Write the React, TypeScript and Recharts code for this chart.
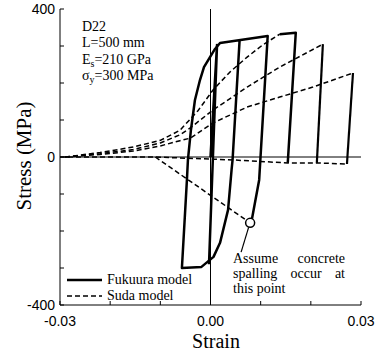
import { Legend, Line, LineChart, ReferenceDot, ReferenceLine, XAxis, YAxis } from 'recharts'

type Pt = { x: number; y: number }

// strain / stress (MPa)
const fukuuraFirst: Pt[] = [
  { x: 0, y: 0 },
  { x: 0.0013, y: 303 },
  { x: -0.0003, y: -290 },
]

const fukuuraMain: Pt[] = [
  { x: 0.0058, y: 316 },
  { x: 0.0044, y: -8 },
  { x: 0.0042, y: -35 },
  { x: 0.0035, y: -143 },
  { x: 0.0019, y: -232 },
  { x: 0.0006, y: -270 },
  { x: -0.0018, y: -297 },
  { x: -0.0057, y: -300 },
  { x: -0.0047, y: -62 },
  { x: -0.0045, y: -8 },
  { x: -0.0039, y: 73 },
  { x: -0.0031, y: 154 },
  { x: -0.0021, y: 208 },
  { x: -0.0013, y: 243 },
  { x: -0.0001, y: 270 },
  { x: 0.0009, y: 292 },
  { x: 0.0019, y: 308 },
  { x: 0.0114, y: 327 },
  { x: 0.0097, y: -62 },
  { x: 0.0083, y: -165 },
  { x: 0.0079, y: -178 },
]

const fukuuraLast: Pt[] = [
  { x: 0.0138, y: 332 },
  { x: 0.017, y: 336 },
  { x: 0.0154, y: -16 },
]

const sudaA: Pt[] = [
  { x: -0.029, y: 0 },
  { x: -0.022, y: 12 },
  { x: -0.0154, y: 27 },
  { x: -0.01, y: 45 },
  { x: -0.0061, y: 72 },
  { x: -0.0025, y: 125 },
  { x: 0.0005, y: 181 },
  { x: 0.0039, y: 230 },
  { x: 0.0073, y: 270 },
  { x: 0.0104, y: 303 },
  { x: 0.0138, y: 332 },
]

const sudaB: Pt[] = [
  { x: -0.029, y: 0 },
  { x: -0.022, y: 9 },
  { x: -0.0154, y: 20 },
  { x: -0.01, y: 38 },
  { x: -0.0061, y: 60 },
  { x: -0.0041, y: 78 },
  { x: 0.0005, y: 127 },
  { x: 0.0073, y: 189 },
  { x: 0.0138, y: 243 },
  { x: 0.0224, y: 305 },
]

const sudaC: Pt[] = [
  { x: -0.029, y: 0 },
  { x: -0.022, y: 7 },
  { x: -0.0154, y: 16 },
  { x: -0.01, y: 30 },
  { x: -0.0061, y: 44 },
  { x: -0.004, y: 51 },
  { x: 0.0005, y: 92 },
  { x: 0.0073, y: 135 },
  { x: 0.0138, y: 162 },
  { x: 0.0204, y: 189 },
  { x: 0.0284, y: 227 },
]

const sudaUnloadB: Pt[] = [
  { x: 0.0224, y: 305 },
  { x: 0.0212, y: -16 },
]

const sudaUnloadC: Pt[] = [
  { x: 0.0284, y: 227 },
  { x: 0.0272, y: -19 },
]

const sudaZero: Pt[] = [
  { x: -0.03, y: 0 },
  { x: -0.011, y: 0 },
  { x: 0.0045, y: -8 },
  { x: 0.0112, y: -13 },
  { x: 0.0154, y: -16 },
  { x: 0.0212, y: -16 },
  { x: 0.0272, y: -19 },
]

const sudaSpalling: Pt[] = [
  { x: -0.011, y: 0 },
  { x: 0.0079, y: -178 },
]

const spallPoint = { x: 0.0079, y: -178 }

const xTicks = [-0.03, -0.02, -0.01, 0, 0.01, 0.02, 0.03]
const xTickLabels = ['-0.03', '', '', '0.00', '', '', '0.03']
const yTicks = [-400, -300, -200, -100, 0, 100, 200, 300, 400]
const yTickLabels = ['-400', '', '', '', '0', '', '', '', '400']

const SERIF = "'Liberation Serif', 'DejaVu Serif', serif"
const SANS = "'Liberation Sans', Arial, sans-serif"

const LEGEND_STYLE: Record<string, { w: number; dash?: string }> = {
  'Fukuura model': { w: 2.5 },
  'Suda model': { w: 1.5, dash: '5 3' },
}

const pick = (ticks: number[], labels: string[]) => (v: number) => {
  const i = ticks.findIndex((t) => Math.abs(t - v) < 1e-9)
  return i >= 0 ? labels[i] : ''
}

function renderLegend(props: any) {
  const items = (props.payload ?? []).filter((p: any) => LEGEND_STYLE[p.value])
  return (
    <div style={{ fontFamily: SERIF, fontSize: 14, color: '#000' }}>
      {items.map((p: any) => {
        const s = LEGEND_STYLE[p.value]
        return (
          <div key={p.value} style={{ display: 'flex', alignItems: 'center', height: 16 }}>
            <svg width={35} height={6}>
              <line x1={0} y1={3} x2={35} y2={3} stroke="#000" strokeWidth={s.w} strokeDasharray={s.dash} />
            </svg>
            <span style={{ marginLeft: 5 }}>{p.value}</span>
          </div>
        )
      })}
    </div>
  )
}

export default function App() {
  const solid = { type: 'linear' as const, dataKey: 'y', dot: false, isAnimationActive: false, stroke: '#000', strokeLinejoin: 'round' as const }
  const dashed = { ...solid, strokeWidth: 1.5, strokeDasharray: '5 3' }

  return (
    <div style={{ position: 'absolute', left: 0, top: 0, width: 377, height: 356, background: '#fff' }}>
      <LineChart width={377} height={356} margin={{ top: 9, right: 16, bottom: 0, left: 0 }}>
        <XAxis
          type="number"
          dataKey="x"
          domain={[-0.03, 0.03]}
          ticks={xTicks}
          tickFormatter={pick(xTicks, xTickLabels)}
          tickSize={-4}
          tickMargin={15}
          height={51}
          stroke="#000"
          tick={{ fill: '#000', fontSize: 14, fontFamily: SANS }}
        />
        <XAxis
          xAxisId="top"
          orientation="top"
          type="number"
          dataKey="x"
          domain={[-0.03, 0.03]}
          ticks={xTicks}
          tick={false}
          tickSize={-4}
          height={0}
          stroke="#000"
        />
        <YAxis
          type="number"
          domain={[-400, 400]}
          ticks={yTicks}
          tickFormatter={pick(yTicks, yTickLabels)}
          tickSize={-4}
          tickMargin={9}
          width={60}
          stroke="#000"
          tick={{ fill: '#000', fontSize: 14, fontFamily: SANS }}
        />
        <YAxis
          yAxisId="right"
          orientation="right"
          type="number"
          domain={[-400, 400]}
          ticks={yTicks}
          tick={false}
          tickSize={-4}
          width={0}
          stroke="#000"
        />
        <ReferenceLine x={0} stroke="#000" strokeWidth={1} />
        <ReferenceLine y={0} stroke="#000" strokeWidth={1} />

        <Line {...solid} data={fukuuraMain} name="Fukuura model" strokeWidth={2.5} />
        <Line {...solid} data={fukuuraFirst} strokeWidth={2.5} legendType="none" />
        <Line {...solid} data={fukuuraLast} strokeWidth={2.5} legendType="none" />
        <Line {...dashed} data={sudaA} name="Suda model" />
        <Line {...dashed} data={sudaB} legendType="none" />
        <Line {...dashed} data={sudaC} legendType="none" />
        <Line {...dashed} data={sudaZero} legendType="none" />
        <Line {...dashed} data={sudaSpalling} legendType="none" />
        <Line {...solid} data={sudaUnloadB} strokeWidth={2.2} legendType="none" />
        <Line {...solid} data={sudaUnloadC} strokeWidth={2.2} legendType="none" />

        <ReferenceLine
          segment={[
            { x: 0.0076, y: -190 },
            { x: 0.0061, y: -257 },
          ]}
          stroke="#000"
          strokeWidth={1.2}
        />
        <ReferenceDot x={spallPoint.x} y={spallPoint.y} r={4.5} fill="#fff" stroke="#000" strokeWidth={1.5} />

        <Legend
          layout="vertical"
          align="center"
          verticalAlign="middle"
          content={renderLegend}
          wrapperStyle={{ left: 67, top: 272, width: 'auto' }}
        />
      </LineChart>

      <div
        style={{
          position: 'absolute',
          left: 82,
          top: 19,
          fontFamily: SERIF,
          fontSize: 14,
          lineHeight: '16.3px',
          color: '#000',
          whiteSpace: 'nowrap',
        }}
      >
        <div>D22</div>
        <div>L=500 mm</div>
        <div>
          E<sub style={{ fontSize: 10, verticalAlign: '-3px', lineHeight: 0 }}>s</sub>=210 GPa
        </div>
        <div>
          σ<sub style={{ fontSize: 10, verticalAlign: '-3px', lineHeight: 0 }}>y</sub>=300 MPa
        </div>
      </div>

      <div
        style={{
          position: 'absolute',
          left: 233,
          top: 251,
          width: 112,
          fontFamily: SERIF,
          fontSize: 14,
          lineHeight: '15px',
          color: '#000',
        }}
      >
        <div style={{ textAlign: 'justify', textAlignLast: 'justify' }}>Assume concrete</div>
        <div style={{ textAlign: 'justify', textAlignLast: 'justify' }}>spalling occur at</div>
        <div>this point</div>
      </div>

      <div
        style={{
          position: 'absolute',
          left: 24,
          top: 156,
          transform: 'translate(-50%, -50%) rotate(-90deg)',
          fontFamily: SERIF,
          fontSize: 21,
          lineHeight: '21px',
          color: '#000',
          whiteSpace: 'nowrap',
        }}
      >
        Stress (MPa)
      </div>

      <div
        style={{
          position: 'absolute',
          left: 216,
          top: 331,
          transform: 'translateX(-50%)',
          fontFamily: SERIF,
          fontSize: 20,
          lineHeight: '20px',
          color: '#000',
          whiteSpace: 'nowrap',
        }}
      >
        Strain
      </div>
    </div>
  )
}
